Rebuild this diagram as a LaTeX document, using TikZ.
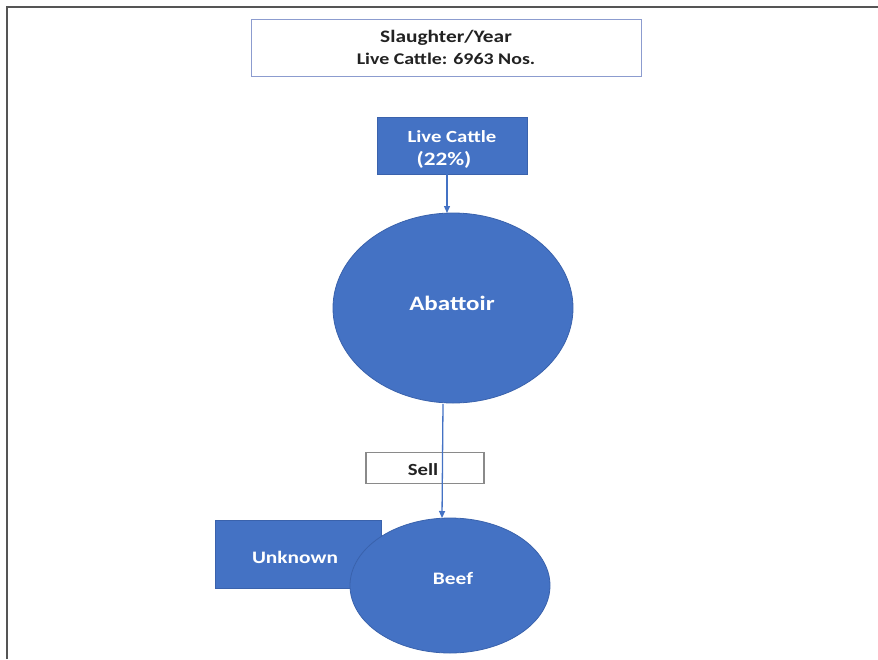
\documentclass[tikz,border=0pt]{standalone}
\usepackage{fontspec}
\setmainfont{Carlito}[FakeStretch=1.22]
\usetikzlibrary{arrows.meta,shapes.geometric}
\definecolor{accent}{HTML}{4472C4}
\definecolor{accentdark}{HTML}{3A62AC}
\definecolor{framegray}{HTML}{555555}
\definecolor{boxedge}{HTML}{8C9CCF}
\definecolor{selledge}{HTML}{8A8A8A}
\definecolor{textdark}{HTML}{222222}
\newcommand{\fs}[1]{\fontsize{#1}{#1}\selectfont}
\begin{document}
\begin{tikzpicture}[x=1pt,y=-1pt,
  bluebox/.style={draw=accentdark,fill=accent,line width=0.8pt,inner sep=0pt},
  blueoval/.style={ellipse,draw=accentdark,fill=accent,line width=0.8pt,inner sep=0pt},
  whitetext/.style={text=white,font=\bfseries,inner sep=0pt},
  darktext/.style={text=textdark,font=\bfseries,inner sep=0pt},
  flow/.style={draw=accent,line width=1.3pt,-{Triangle[length=7pt,width=6pt]}},
]
\useasboundingbox (0,0) rectangle (878,659);
% page frame
\draw[framegray,line width=2pt] (7,659) -- (7,7) -- (878,7);
% heading box
\node[draw=boxedge,line width=1.8pt,fill=white,minimum width=390pt,minimum height=57pt,inner sep=0pt] (head) at (446.5,48) {};
\node[darktext] (headtitle) at (446,38) {\fs{17.5}Slaughter/Year};
\node[darktext] (headcount) at (446,59) {\fs{16.3}Live Cattle: 6963 Nos.};
% source box
\node[bluebox,minimum width=150pt,minimum height=57pt] (src) at (452,146) {};
\node[whitetext] (srcname) at (452,137) {\fs{17}Live Cattle};
\node[whitetext] (srcshare) at (444,160) {\fs{19}(22\%)};
% abattoir
\node[blueoval,minimum width=240pt,minimum height=190pt] (abt) at (453,308) {};
\node[whitetext] (abtlbl) at (452,303) {\fs{20.5}Abattoir};
% sell label
\node[draw=selledge,line width=1.3pt,fill=white,minimum width=118pt,minimum height=31pt,inner sep=0pt] (sell) at (425,468) {};
\node[darktext] (selllbl) at (423,470) {\fs{17}Sell};
% unknown box
\node[bluebox,minimum width=166pt,minimum height=68pt] (unk) at (298,554) {};
\node[whitetext] (unklbl) at (295,557) {\fs{17.5}Unknown};
% beef
\node[blueoval,minimum width=200pt,minimum height=135pt] (beef) at (450,585.5) {};
\node[whitetext] (beeflbl) at (453,578) {\fs{17.5}Beef};
% connectors
\coordinate (srcfoot) at (447,174);
\coordinate (abttop) at (447,213);
\coordinate (abtfoot) at (443,404);
\coordinate (beeftop) at (442,518);
\draw[flow] (srcfoot) -- (abttop);
\draw[flow] (abtfoot) -- (beeftop);
\end{tikzpicture}
\end{document}
